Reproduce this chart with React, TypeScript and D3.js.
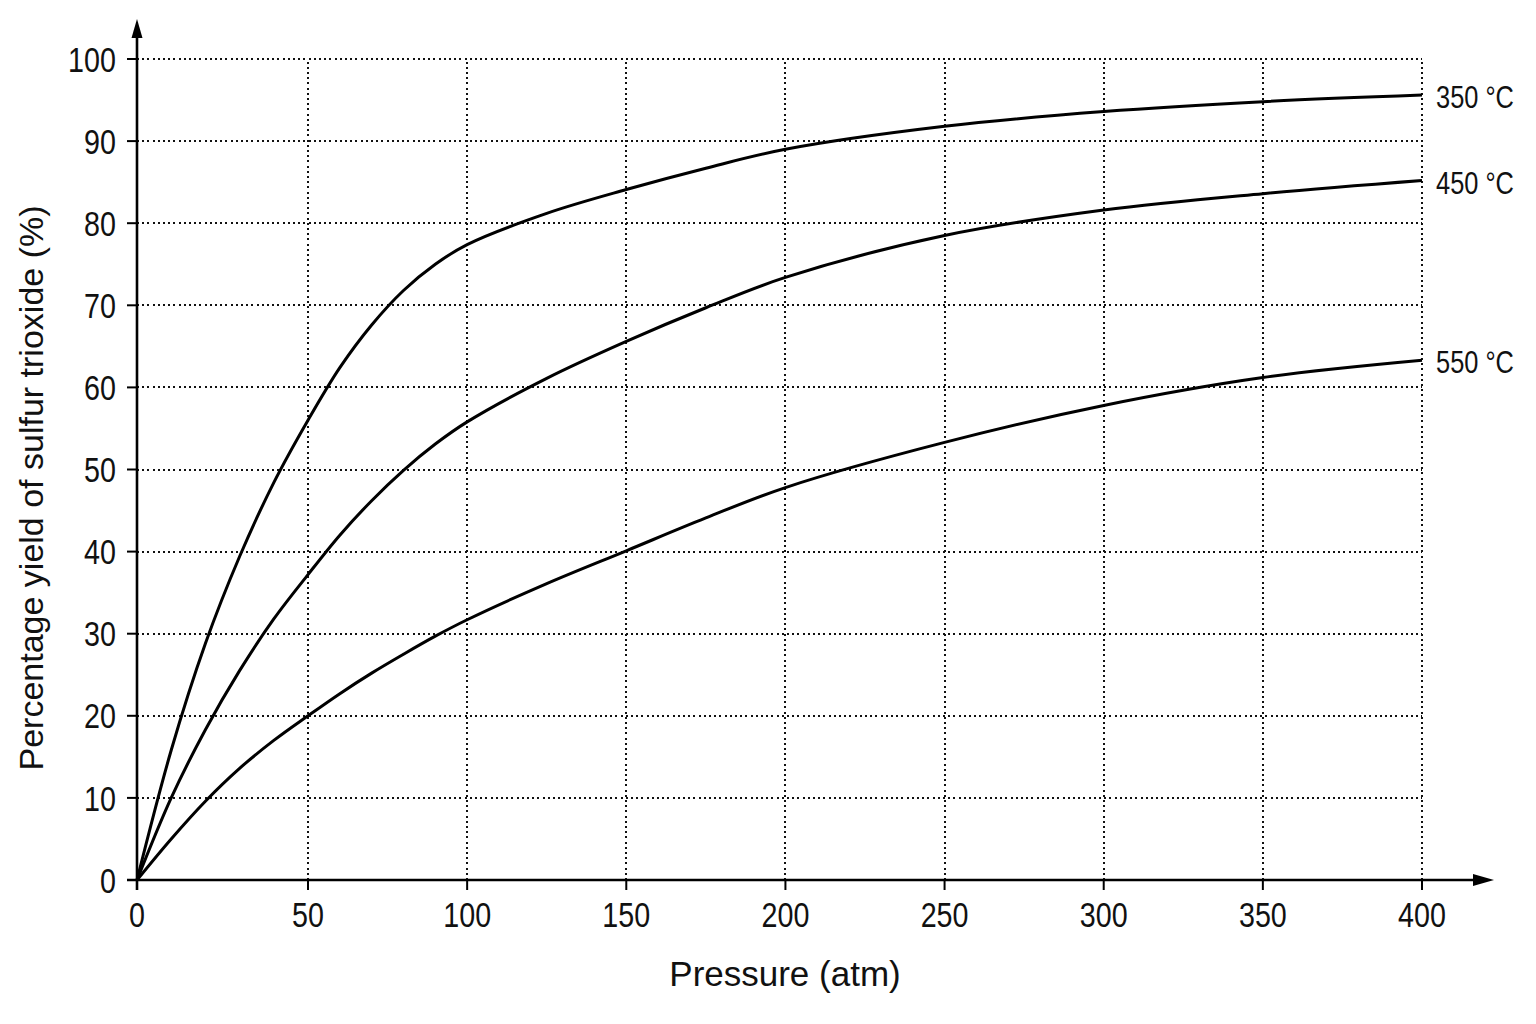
import React from "react";
import * as d3 from "d3";

// values
const pressures = [0, 10, 20, 30, 40, 50, 60, 70, 80, 90, 100, 125, 150, 175, 200, 250, 300, 350, 400];
const yield350 = [0, 15.8, 28.8, 39.4, 48.4, 56.0, 62.4, 67.6, 71.8, 75.0, 77.4, 81.2, 84.1, 86.7, 89.0, 91.8, 93.6, 94.8, 95.6];
const yield450 = [0, 10.0, 18.3, 25.5, 31.8, 37.2, 42.0, 46.2, 49.9, 53.1, 55.8, 61.1, 65.6, 69.7, 73.4, 78.5, 81.6, 83.6, 85.2];
const yield550 = [0, 5.0, 9.6, 13.6, 17.0, 20.0, 22.7, 25.2, 27.5, 29.7, 31.7, 36.1, 40.1, 44.1, 47.8, 53.3, 57.8, 61.2, 63.3];
const seriesNames = ["350 °C", "450 °C", "550 °C"];

const xTicks = [0, 50, 100, 150, 200, 250, 300, 350, 400];
const yTicks = [0, 10, 20, 30, 40, 50, 60, 70, 80, 90, 100];

const W = 1536;
const H = 1024;
const NARROW = 0.82;

const App = () => {
  // the printed grid is a touch wider in the first column
  const x = d3.scaleLinear().domain([0, 50, 400]).range([137, 308, 1422]);
  const y = d3.scaleLinear().domain([0, 100]).range([880, 59]);

  const series = [yield350, yield450, yield550].map((vals, i) => ({
    name: seriesNames[i],
    points: pressures.map((p, j) => [p, vals[j]] as [number, number]),
  }));

  const line = d3
    .line<[number, number]>()
    .x((d) => x(d[0]))
    .y((d) => y(d[1]))
    .curve(d3.curveCatmullRom.alpha(0.5));

  const x0 = x(0);
  const y0 = y(0);
  const xEnd = x(400);
  const yTop = y(100);

  return (
    <svg
      width={W}
      height={H}
      style={{ position: "absolute", left: 0, top: 0, background: "#fff" }}
      fontFamily="'Liberation Sans', Arial, sans-serif"
    >
      {/* dotted grid */}
      <g stroke="#111" strokeWidth={2} strokeDasharray="2,3.2" shapeRendering="crispEdges">
        {xTicks.slice(1).map((t) => (
          <line key={"gx" + t} x1={x(t)} x2={x(t)} y1={y0} y2={yTop} />
        ))}
        {yTicks.slice(1).map((t) => (
          <line key={"gy" + t} x1={x0} x2={xEnd} y1={y(t)} y2={y(t)} />
        ))}
      </g>

      {/* axes */}
      <g stroke="#000" strokeWidth={2.6}>
        <line x1={x0} x2={x0} y1={y0 + 10} y2={32} />
        <line x1={x0 - 10} x2={1478} y1={y0} y2={y0} />
        {xTicks.slice(1).map((t) => (
          <line key={"tx" + t} x1={x(t)} x2={x(t)} y1={y0} y2={y0 + 10} strokeWidth={2} />
        ))}
        {yTicks.slice(1).map((t) => (
          <line key={"ty" + t} x1={x0 - 10} x2={x0} y1={y(t)} y2={y(t)} strokeWidth={2} />
        ))}
      </g>
      <path d={`M${x0},19 L${x0 - 5.5},38 L${x0 + 5.5},38 Z`} fill="#000" />
      <path d={`M1494,${y0} L1473,${y0 - 6} L1473,${y0 + 6} Z`} fill="#000" />

      {/* tick labels */}
      <g fontSize={35} fill="#111">
        {yTicks.map((t) => (
          <text
            key={"ly" + t}
            transform={`translate(116,${y(t)}) scale(${NARROW},1)`}
            textAnchor="end"
            dy="0.36em"
          >
            {t}
          </text>
        ))}
        {xTicks.map((t) => (
          <text
            key={"lx" + t}
            transform={`translate(${x(t)},927) scale(${NARROW},1)`}
            textAnchor="middle"
          >
            {t}
          </text>
        ))}
      </g>

      {/* curves */}
      <g fill="none" stroke="#000" strokeWidth={3}>
        {series.map((s) => (
          <path key={s.name} d={line(s.points) ?? ""} />
        ))}
      </g>

      {/* series labels */}
      <g fontSize={31} fill="#111">
        {series.map((s) => {
          const last = s.points[s.points.length - 1];
          return (
            <text
              key={"n" + s.name}
              transform={`translate(${x(last[0]) + 14},${y(last[1]) + 2}) scale(${NARROW},1)`}
              dy="0.36em"
            >
              {s.name}
            </text>
          );
        })}
      </g>

      {/* axis titles */}
      <text x={785} y={986} fontSize={35} textAnchor="middle" fill="#111">
        Pressure (atm)
      </text>
      <text
        transform="translate(43,488) rotate(-90)"
        fontSize={34}
        textAnchor="middle"
        fill="#111"
      >
        Percentage yield of sulfur trioxide (%)
      </text>
    </svg>
  );
};

export default App;
